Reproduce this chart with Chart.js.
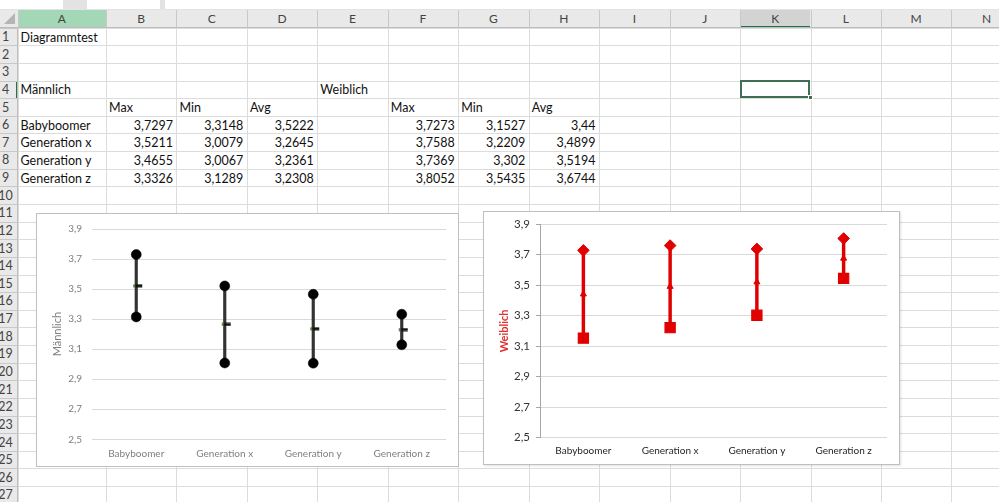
<!DOCTYPE html>
<html><head><meta charset="utf-8">
<script src="https://cdn.jsdelivr.net/npm/chart.js@4.4.1/dist/chart.umd.min.js"></script>
<style>
html,body{margin:0;padding:0;}
body{width:999px;height:502px;overflow:hidden;position:relative;background:#fff;font-family:Lato,"Noto Sans",sans-serif;}
.a{position:absolute;}
.cell{position:absolute;font-size:12.5px;color:#111;white-space:nowrap;display:flex;align-items:center;}
.hdr{position:absolute;font-size:12px;color:#444;display:flex;align-items:center;justify-content:center;}
.chartbox{position:absolute;box-sizing:border-box;border:1px solid #bfbfbf;background:#fff;}
.cw{position:absolute;left:-1px;top:-1px;}
</style>
</head><body>
<div id="sheet"></div>
<div class="chartbox" id="box1" style="left:36px;top:213px;width:423px;height:254px;"><div class="cw" style="width:423px;height:254px;"><canvas id="c1"></canvas></div></div>
<div class="chartbox" id="box2" style="left:483px;top:211px;width:417px;height:254px;box-shadow:1px 1px 2px rgba(0,0,0,0.12);"><div class="cw" style="width:417px;height:254px;"><canvas id="c2"></canvas></div></div>
<script>
// ---- data ----
const sheetTitle = 'Diagrammtest';
const groupLabels = ['Männlich', 'Weiblich'];
const statLabels = ['Max', 'Min', 'Avg'];
const categories = ['Babyboomer', 'Generation x', 'Generation y', 'Generation z'];
const maleMax = [3.7297, 3.5211, 3.4655, 3.3326];
const maleMin = [3.3148, 3.0079, 3.0067, 3.1289];
const maleAvg = [3.5222, 3.2645, 3.2361, 3.2308];
const femaleMax = [3.7273, 3.7588, 3.7369, 3.8052];
const femaleMin = [3.1527, 3.2209, 3.302, 3.5435];
const femaleAvg = [3.44, 3.4899, 3.5194, 3.6744];
const columnLetters = ['A','B','C','D','E','F','G','H','I','J','K','L','M','N','O'];
const yMin = 2.5, yMax = 3.9, yStep = 0.2;

// ---- sheet geometry ----
const ROWHDR_W = 17.5, HDR_TOP = 10, ROW0 = 27.7, ROW_H = 17.63, NROWS = 28;
const colW = [88.5].concat(Array(14).fill(70.45));
const colX = [ROWHDR_W];
colW.forEach((w, i) => colX.push(colX[i] + w));
const rowY = r => ROW0 + (r - 1) * ROW_H;
const sheet = document.getElementById('sheet');
function box(x, y, w, h, css) {
  const d = document.createElement('div');
  d.className = 'a';
  d.style.cssText += `left:${x}px;top:${y}px;width:${w}px;height:${h}px;` + (css || '');
  sheet.appendChild(d);
  return d;
}
// top strip (name box / formula bar)
box(0, 0, 999, 10, 'background:#e3e3e3;');
box(0, 0, 63, 9, 'background:#fff;');
box(87, 0, 73, 9, 'background:#fff;');
box(165, 0, 834, 9, 'background:#fff;');
box(0, 9.5, 999, 1, 'background:#d0d0d0;');
// headers background
box(0, HDR_TOP, 999, ROW0 - HDR_TOP, 'background:#e9e9e9;');
box(0, ROW0, ROWHDR_W, 502 - ROW0, 'background:#e9e9e9;');
// corner triangle
box(4, 13, 0, 0, 'border-left:11px solid transparent;border-bottom:11px solid #b5b5b5;');
// column header highlights
box(colX[0], HDR_TOP, colW[0], ROW0 - HDR_TOP, 'background:#a4d7b5;');
box(colX[10], HDR_TOP, colW[10], ROW0 - HDR_TOP, 'background:#d3d3d3;');
box(colX[10], ROW0 - 2, colW[10], 2, 'background:#217346;');
box(ROWHDR_W - 2, rowY(4), 2, ROW_H, 'background:#217346;');
// grid lines
for (let i = 0; i < colX.length; i++) {
  box(colX[i], HDR_TOP, 1, ROW0 - HDR_TOP, 'background:#c8c8c8;');
  box(colX[i], ROW0, 1, 502 - ROW0, 'background:#dcdcdc;');
}
for (let r = 1; r <= NROWS; r++) {
  box(0, rowY(r), ROWHDR_W, 1, 'background:#c8c8c8;');
  box(ROWHDR_W, rowY(r), 999, 1, 'background:#dcdcdc;');
}
box(0, ROW0 - 0.5, 999, 1, 'background:#bdbdbd;');
box(ROWHDR_W - 0.5, ROW0, 1, 502 - ROW0, 'background:#bdbdbd;');
// header text
for (let i = 0; i < 14; i++) {
  const d = box(colX[i], HDR_TOP, colW[i], ROW0 - HDR_TOP);
  d.className = 'hdr'; d.textContent = columnLetters[i];
}
for (let r = 1; r <= NROWS; r++) {
  const d = box(-6, rowY(r), 23, ROW_H);
  d.className = 'hdr'; d.style.fontSize = '12.5px'; d.textContent = r;
}
// cell content
const fmt = v => String(v).replace('.', ',');
function cell(c, r, text, align) {
  const d = box(colX[c] + 3, rowY(r) + 0.5, colW[c] - 6.5, ROW_H);
  d.className = 'cell';
  if (align === 'right') d.style.justifyContent = 'flex-end';
  d.textContent = text;
}
cell(0, 1, sheetTitle);
cell(0, 4, groupLabels[0]);
cell(4, 4, groupLabels[1]);
statLabels.forEach((s, i) => { cell(1 + i, 5, s); cell(5 + i, 5, s); });
categories.forEach((cat, i) => {
  const r = 6 + i;
  cell(0, r, cat);
  cell(1, r, fmt(maleMax[i]), 'right');
  cell(2, r, fmt(maleMin[i]), 'right');
  cell(3, r, fmt(maleAvg[i]), 'right');
  cell(5, r, fmt(femaleMax[i]), 'right');
  cell(6, r, fmt(femaleMin[i]), 'right');
  cell(7, r, fmt(femaleAvg[i]), 'right');
});
// selected cell K4
box(colX[10] - 0.5, rowY(4) - 0.5, colW[10], ROW_H, 'box-sizing:border-box;border:2px solid #3f6e55;');
box(colX[11] - 3, rowY(5) - 3, 5, 5, 'background:#3f6e55;border:1px solid #fff;box-sizing:border-box;');

// ---- avg dash marker (offset to the right, as in the original) ----
const dash = document.createElement('canvas');
dash.width = 16; dash.height = 4;
(function () {
  const g = dash.getContext('2d');
  g.fillStyle = '#4d7a3a'; g.fillRect(5, 0.5, 3, 3);
  g.fillStyle = '#111'; g.fillRect(7, 0.5, 7, 3);
})();

// ---- charts ----
Chart.defaults.font.family = 'Lato, "Noto Sans", sans-serif';
const tickFmt = v => Number(v).toFixed(1).replace('.', ',');
function makeChart(id, cfg) {
  const ranges = categories.map((c, i) => [cfg.min[i], cfg.max[i]]);
  return new Chart(document.getElementById(id), {
    type: 'bar',
    data: {
      labels: categories,
      datasets: [
        Object.assign({ type: 'line', data: cfg.avg, showLine: false, order: 0 }, cfg.avgStyle),
        Object.assign({ type: 'line', data: cfg.max, showLine: false, order: 1 }, cfg.maxStyle),
        Object.assign({ type: 'line', data: cfg.min, showLine: false, order: 1 }, cfg.minStyle),
        { type: 'bar', data: ranges, backgroundColor: cfg.lineColor, barThickness: cfg.lineWidth, borderWidth: 0, order: 5 }
      ]
    },
    options: {
      responsive: true, maintainAspectRatio: false, animation: false, events: [],
      plugins: { legend: { display: false }, tooltip: { enabled: false } },
      layout: { padding: { left: 15, right: 13, top: 13, bottom: 0 } },
      scales: {
        x: {
          grid: { display: false, drawTicks: false }, border: { display: false },
          ticks: { color: cfg.xColor, font: { size: cfg.xSize }, padding: cfg.xPad, maxRotation: 0, autoSkip: false },
          afterFit: s => { s.height = cfg.xH; }
        },
        y: {
          min: yMin, max: yMax,
          ticks: { stepSize: yStep, color: cfg.yColor, font: { size: cfg.ySize }, padding: cfg.yPad, callback: tickFmt },
          grid: { color: '#d9d9d9', drawTicks: cfg.yTicks, tickLength: 4, tickColor: '#a6a6a6' },
          border: cfg.yBorder,
          title: { display: true, text: cfg.title, color: cfg.titleColor, font: { size: 11, weight: cfg.titleWeight }, padding: 0 },
          afterFit: s => { s.width = cfg.yW; }
        }
      }
    }
  });
}
makeChart('c1', {
  min: maleMin, max: maleMax, avg: maleAvg, title: groupLabels[0], titleColor: '#7f7f7f', titleWeight: 'normal',
  lineColor: '#333333', lineWidth: 2.5,
  maxStyle: { pointStyle: 'circle', pointRadius: 5, pointBackgroundColor: '#000', pointBorderColor: '#000', pointBorderWidth: 0.5 },
  minStyle: { pointStyle: 'circle', pointRadius: 5, pointBackgroundColor: '#000', pointBorderColor: '#000', pointBorderWidth: 0.5 },
  avgStyle: { pointStyle: dash, pointRadius: 4 },
  xColor: '#7f7f7f', xSize: 10, xPad: 8, xH: 27.7,
  yColor: '#7f7f7f', ySize: 10, yPad: 10, yW: 41, yTicks: false, yBorder: { display: false }
});
makeChart('c2', {
  min: femaleMin, max: femaleMax, avg: femaleAvg, title: groupLabels[1], titleColor: '#e03030', titleWeight: 'bold',
  lineColor: '#e10000', lineWidth: 2.8,
  maxStyle: { pointStyle: 'rectRot', pointRadius: 5.8, pointBackgroundColor: '#e10000', pointBorderColor: '#e10000', pointBorderWidth: 1 },
  minStyle: { pointStyle: 'rect', pointRadius: 7.2, pointBackgroundColor: '#e10000', pointBorderColor: '#e10000', pointBorderWidth: 1.2 },
  avgStyle: { pointStyle: 'triangle', pointRadius: 3.5, pointBackgroundColor: '#e10000', pointBorderColor: '#e10000', pointBorderWidth: 1 },
  xColor: '#1f1f1f', xSize: 10, xPad: 7, xH: 27.3,
  yColor: '#333333', ySize: 11.5, yPad: 6, yW: 42, yTicks: true, yBorder: { display: true, color: '#a6a6a6', width: 1 }
});
</script>
</body></html>
